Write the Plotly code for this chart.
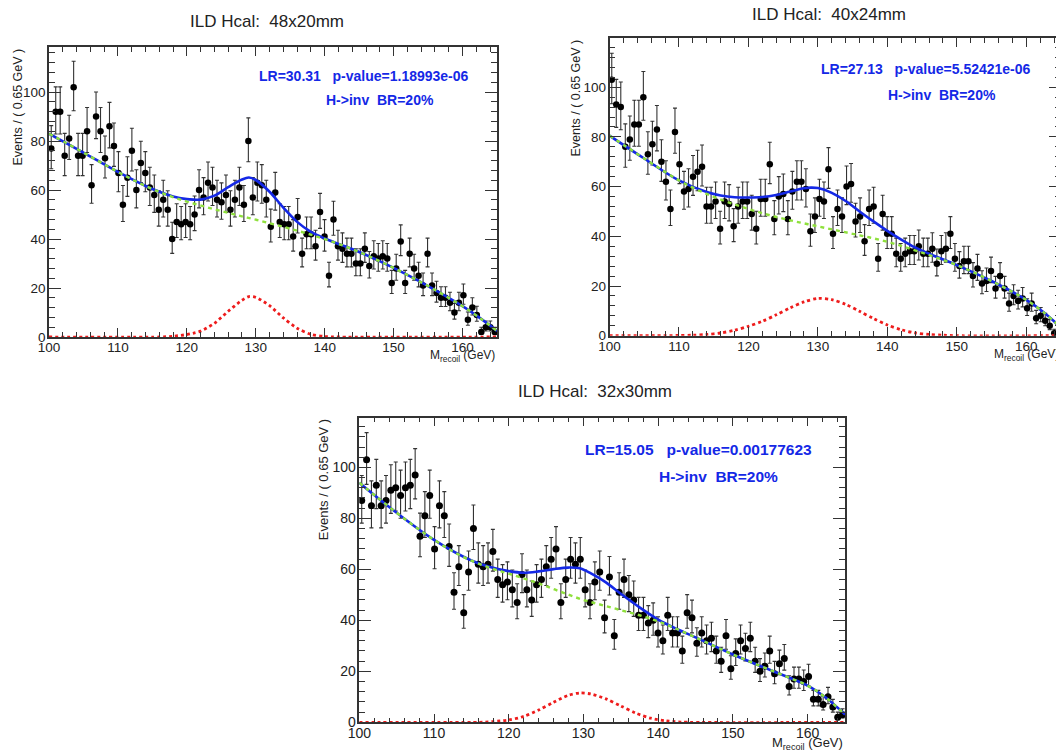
import numpy as np
import plotly.graph_objects as go

# ---------------- data ----------------
BIN_WIDTH = 0.65
M_LOW = 100.0
N_BINS = 100

counts_48x20 = [77, 92, 92, 74, 81, 102, 74, 74, 84, 62,
                90, 84, 73, 86, 78, 67, 54, 65, 76, 60,
                71, 67, 61, 58, 52, 56, 52, 40, 47, 46,
                47, 46, 50, 60, 57, 63, 61, 56, 55, 58,
                52, 56, 61, 54, 80, 57, 63, 62, 56, 45,
                59, 47, 46, 46, 41, 49, 34, 42, 42, 37,
                51, 41, 25, 48, 37, 36, 34, 34, 30, 30,
                36, 29, 33, 32, 33, 32, 22, 28, 39, 22,
                34, 28, 25, 21, 34, 21, 18, 16, 16, 14,
                10, 14, 17, 7, 12, 9, 2, 4, 4, 2]

counts_40x24 = [103, 93, 92, 76, 79, 85, 85, 96, 73, 77,
                83, 70, 62, 51, 82, 69, 58, 59, 64, 66,
                68, 52, 52, 54, 43, 54, 53, 44, 52, 54,
                54, 49, 43, 55, 55, 69, 47, 56, 57, 47,
                58, 62, 62, 59, 42, 48, 55, 54, 67, 41,
                51, 48, 60, 61, 46, 48, 38, 51, 52, 31,
                49, 41, 41, 33, 31, 33, 34, 34, 36, 33,
                33, 35, 29, 34, 35, 41, 31, 28, 30, 30,
                24, 27, 21, 22, 26, 19, 24, 19, 13, 16,
                14, 15, 11, 13, 7, 8, 6, 4, 1, 5]

counts_32x30 = [87, 103, 85, 93, 85, 87, 91, 92, 89, 92,
                93, 97, 73, 81, 89, 68, 85, 81, 69, 51,
                61, 43, 59, 76, 62, 61, 62, 67, 56, 54,
                55, 52, 47, 58, 52, 48, 54, 56, 61, 64,
                68, 47, 56, 64, 62, 64, 52, 47, 55, 59,
                41, 57, 34, 51, 56, 50, 48, 42, 42, 39,
                40, 35, 32, 42, 35, 35, 28, 43, 41, 31,
                35, 32, 33, 28, 24, 34, 21, 27, 32, 29,
                33, 24, 20, 22, 28, 19, 23, 25, 14, 17,
                17, 16, 18, 9, 9, 7, 10, 6, 2, 3]

# background (green dashed) curves
bkg_x = [100, 102.5, 105, 107.5, 110, 112.5, 115, 117.5, 120, 122.5, 125, 127.5, 130,
         132.5, 135, 137.5, 140, 142.5, 145, 147.5, 150, 152.5, 155, 157.5, 160, 162.5, 165]
bkg_48x20 = [83, 79.2, 75.3, 71.3, 67.4, 63.7, 60.4, 57.6, 55.3, 53.3, 51.4, 49.6, 47.9,
             46.1, 44.2, 42.2, 40.0, 37.5, 34.7, 31.6, 28.2, 24.6, 20.8, 16.8, 12.6, 7.8, 2.5]
bkg_40x24 = [80.5, 75.9, 71.3, 66.8, 62.5, 58.9, 55.9, 53.3, 51.0, 48.9, 47.1, 45.5, 44.0,
             42.5, 41.0, 39.5, 37.8, 35.7, 33.4, 31.0, 28.4, 25.4, 22.0, 18.4, 14.4, 9.4, 3.2]
bkg_32x30 = [94, 88, 82.2, 76.7, 71.6, 67.1, 63.4, 60.6, 58.3, 56.0, 53.4, 50.6, 48.0,
             46.0, 44.0, 42.0, 39.6, 36.6, 33.3, 29.9, 26.6, 23.5, 20.5, 17.5, 14.4, 9.5, 3.0]

# signal (red dotted) curves
sig_x_48x20 = [100, 116, 118, 120, 121, 122, 124, 126, 128, 129, 130, 132, 134, 136, 138, 140, 142, 165]
sig_48x20 = [0, 0, 0.3, 1.0, 1.6, 2.4, 5.6, 10.5, 15.0, 16.5, 16.2, 12.8, 7.8, 3.6, 1.1, 0.2, 0, 0]

sig_x_40x24 = [100, 108, 110, 112, 114, 116, 118, 120, 122, 124, 126, 128, 130, 132, 134,
               136, 138, 140, 142, 144, 146, 148, 150, 165]
sig_40x24 = [0, 0, 0.1, 0.2, 0.5, 1.1, 2.2, 3.8, 5.8, 8.4, 11.2, 13.6, 15.0, 14.5, 12.6,
             9.8, 6.9, 4.3, 2.4, 1.1, 0.5, 0.2, 0, 0]

sig_x_32x30 = [100, 116, 118, 120, 122, 124, 126, 128, 129.5, 131, 133, 135, 137, 139, 141, 143, 165]
sig_32x30 = [0, 0, 0.3, 0.9, 2.3, 4.8, 7.9, 10.6, 11.5, 11.1, 9.2, 6.4, 3.6, 1.6, 0.6, 0.1, 0]

# total fit (blue solid) curves
tot_x_48x20 = [100, 105, 110, 115, 118, 120, 121, 122, 124, 126, 128, 129, 130, 132, 134,
               136, 138, 140, 142.5, 145, 147.5, 150, 155, 160, 162.5, 165]
tot_48x20 = [83, 75.3, 67.4, 60.4, 57.4, 56.3, 56.1, 56.1, 57.7, 61.2, 64.3, 65.1, 64.1, 59.3, 52.8,
             47.0, 42.9, 40.2, 37.5, 34.7, 31.6, 28.2, 20.8, 12.6, 7.8, 2.5]

tot_x_40x24 = [100, 105, 110, 114, 116, 118, 120, 122, 124, 126, 128, 129, 130, 132, 134,
               136, 138, 140, 142, 144, 146, 150, 155, 160, 162.5, 165]
tot_40x24 = [80.5, 71.3, 62.5, 57.8, 56.4, 55.7, 55.6, 55.8, 56.6, 58.0, 59.3, 59.6, 59.4, 57.5, 54.2,
             50.0, 46.0, 42.2, 38.7, 35.5, 33.0, 28.4, 22.0, 14.4, 9.4, 3.2]

tot_x_32x30 = [100, 105, 110, 115, 117.5, 120, 122, 124, 126, 128, 129.5, 131, 133, 135, 137.5,
               140, 142.5, 145, 150, 155, 160, 162.5, 165]
tot_32x30 = [94, 82.2, 71.6, 63.5, 60.9, 59.3, 58.7, 59.2, 60.1, 60.7, 60.4, 58.4, 54.9, 50.4, 45.1,
             40.3, 36.6, 33.3, 26.6, 20.5, 14.4, 9.5, 3.0]

titles = ["ILD Hcal:\u00a0\u00a048x20mm", "ILD Hcal:\u00a0\u00a040x24mm", "ILD Hcal:\u00a0\u00a032x30mm"]
lr_texts = ["LR=30.31\u00a0\u00a0\u00a0p-value=1.18993e-06",
            "LR=27.13\u00a0\u00a0\u00a0p-value=5.52421e-06",
            "LR=15.05\u00a0\u00a0\u00a0p-value=0.00177623"]
br_text = "H-&gt;inv\u00a0\u00a0BR=20%"
x_ticks = [100, 110, 120, 130, 140, 150, 160]
y_ticks = [0, 20, 40, 60, 80, 100]

# ---------------- layout helpers ----------------
W, H = 1064, 751
PAGE_OFFSET = 8  # default body margin of the html page


def px_x(p):
    return (p - PAGE_OFFSET) / W


def px_y(p):
    return 1 - (p - PAGE_OFFSET) / H


panels = [
    dict(counts=counts_48x20, bkg=bkg_48x20, sx=sig_x_48x20, s=sig_48x20, tx=tot_x_48x20, t=tot_48x20,
         xd=[px_x(49), px_x(497)], yd=[px_y(337), px_y(47)], ymax=118.4,
         title=(267, 22), lr=(364, 76), br=(380, 100), ytitle=(17, 47), xtitle=(497, 356),
         msize=6.5, fs=13.5, tfs=17, lfs=14, yfs=12.5, xfs=12),
    dict(counts=counts_40x24, bkg=bkg_40x24, sx=sig_x_40x24, s=sig_40x24, tx=tot_x_40x24, t=tot_40x24,
         xd=[px_x(609.5), px_x(1061)], yd=[px_y(335.7), px_y(38)], ymax=119.8,
         title=(829, 15), lr=(926, 69), br=(942, 95), ytitle=(575, 38), xtitle=(1061, 355),
         msize=6.5, fs=13.5, tfs=17, lfs=14, yfs=12.5, xfs=12),
    dict(counts=counts_32x30, bkg=bkg_32x30, sx=sig_x_32x30, s=sig_32x30, tx=tot_x_32x30, t=tot_32x30,
         xd=[px_x(359.3), px_x(845)], yd=[px_y(722.3), px_y(417.7)], ymax=119.5,
         title=(595, 391), lr=(698, 449), br=(718, 476), ytitle=(323, 417.7), xtitle=(845, 743),
         msize=7, fs=14, tfs=17, lfs=15.5, yfs=13, xfs=13),
]

centers = M_LOW + BIN_WIDTH * (np.arange(N_BINS) + 0.5)

fig = go.Figure()
annotations = []
layout_axes = {}
FONT = "Liberation Sans, Arial, Helvetica, sans-serif"
BLUE = "#1428e6"

for k, p in enumerate(panels):
    idx = "" if k == 0 else str(k + 1)
    xa, ya = "x" + idx, "y" + idx
    n = np.array(p["counts"], dtype=float)
    err_hi = 0.5 + np.sqrt(n + 0.25)
    err_lo = np.sqrt(n + 0.25) - 0.5

    fig.add_trace(go.Scatter(
        x=centers, y=n, mode="markers", xaxis=xa, yaxis=ya,
        marker=dict(color="black", size=p["msize"]),
        error_y=dict(type="data", symmetric=False, array=err_hi, arrayminus=err_lo,
                     color="#333333", thickness=1.1, width=2),
        hoverinfo="skip"))
    fig.add_trace(go.Scatter(
        x=p["tx"], y=p["t"], mode="lines", xaxis=xa, yaxis=ya,
        line=dict(color=BLUE, width=2.6, shape="spline", smoothing=1.0), hoverinfo="skip"))
    fig.add_trace(go.Scatter(
        x=bkg_x, y=p["bkg"], mode="lines", xaxis=xa, yaxis=ya,
        line=dict(color="#8fe03c", width=2.4, dash="4px,4px", shape="spline", smoothing=1.0),
        hoverinfo="skip"))
    fig.add_trace(go.Scatter(
        x=p["sx"], y=p["s"], mode="lines", xaxis=xa, yaxis=ya,
        line=dict(color="#ee1c1c", width=2.8, dash="3px,3px", shape="spline", smoothing=0.8),
        hoverinfo="skip"))

    tickfont = dict(family=FONT, size=p["fs"], color="#222")
    layout_axes["xaxis" + idx] = dict(
        domain=p["xd"], anchor=ya, range=[100, 165], tickmode="array", tickvals=x_ticks,
        ticktext=[str(v) for v in x_ticks], automargin=False, ticklabelstandoff=-3,
        ticks="inside", ticklen=9, tickwidth=1.2, tickcolor="#333", mirror="allticks",
        showline=True, linecolor="#333", linewidth=1.5, showgrid=False, zeroline=False,
        tickfont=tickfont,
        minor=dict(ticks="inside", ticklen=5, tickwidth=1, tickcolor="#333", dtick=2, tick0=100,
                   showgrid=False))
    layout_axes["yaxis" + idx] = dict(
        domain=p["yd"], anchor=xa, range=[0, p["ymax"]], tickmode="array", tickvals=y_ticks,
        ticktext=[str(v) for v in y_ticks], automargin=False, ticklabelstandoff=-1,
        ticks="inside", ticklen=12, tickwidth=1.2, tickcolor="#333", mirror="allticks",
        showline=True, linecolor="#333", linewidth=1.5, showgrid=False, zeroline=False,
        tickfont=tickfont,
        minor=dict(ticks="inside", ticklen=6, tickwidth=1, tickcolor="#333", dtick=4, tick0=0,
                   showgrid=False))

    annotations.append(dict(x=px_x(p["title"][0]), y=px_y(p["title"][1]), xref="paper", yref="paper",
                            text=titles[k], showarrow=False, xanchor="center", yanchor="middle",
                            font=dict(family=FONT, size=p["tfs"], color="#222")))
    annotations.append(dict(x=px_x(p["lr"][0]), y=px_y(p["lr"][1]), xref="paper", yref="paper",
                            text="<b>" + lr_texts[k] + "</b>", showarrow=False,
                            xanchor="center", yanchor="middle",
                            font=dict(family=FONT, size=p["lfs"], color=BLUE)))
    annotations.append(dict(x=px_x(p["br"][0]), y=px_y(p["br"][1]), xref="paper", yref="paper",
                            text="<b>" + br_text + "</b>", showarrow=False,
                            xanchor="center", yanchor="middle",
                            font=dict(family=FONT, size=p["lfs"], color=BLUE)))
    annotations.append(dict(x=px_x(p["ytitle"][0]), y=px_y(p["ytitle"][1]), xref="paper", yref="paper",
                            text="Events / ( 0.65 GeV )", showarrow=False, textangle=-90,
                            xanchor="center", yanchor="top",
                            font=dict(family=FONT, size=p["yfs"], color="#222")))
    annotations.append(dict(x=px_x(p["xtitle"][0]), y=px_y(p["xtitle"][1]), xref="paper", yref="paper",
                            text="M<sub>recoil</sub> (GeV)", showarrow=False,
                            xanchor="right", yanchor="middle",
                            font=dict(family=FONT, size=p["xfs"], color="#222")))

fig.update_layout(
    width=W, height=H, margin=dict(l=0, r=0, t=0, b=0, autoexpand=False),
    paper_bgcolor="white", plot_bgcolor="white", showlegend=False,
    annotations=annotations, **layout_axes)

fig.write_html("out.html")
